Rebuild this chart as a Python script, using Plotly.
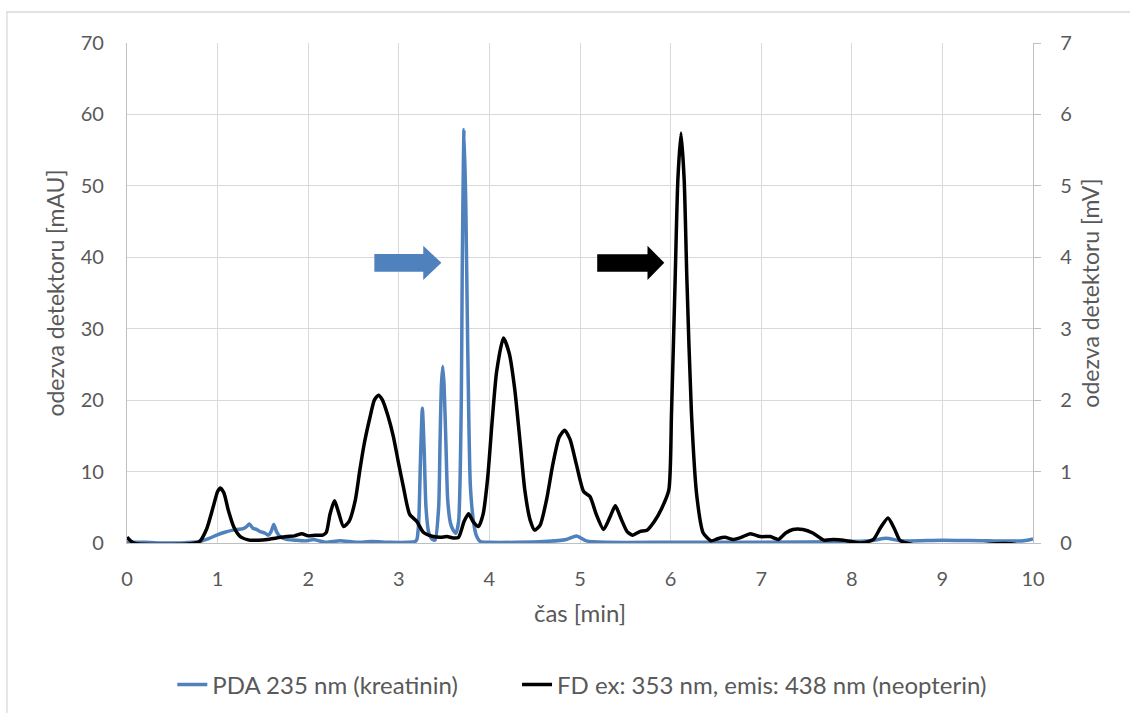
import plotly.graph_objects as go

# PDA 235 nm trace (kreatinin), time [min] vs. response [mAU]
pda_time = [0.00, 0.20, 0.40, 0.60, 0.80, 0.90, 0.99, 1.08, 1.17, 1.28, 1.32, 1.35, 1.39, 1.43,
            1.47, 1.52, 1.56, 1.59, 1.62, 1.65, 1.69, 1.76, 1.85, 1.98, 2.06, 2.12, 2.20, 2.35,
            2.53, 2.70, 2.90, 3.10, 3.18, 3.20, 3.22, 3.24, 3.26, 3.28, 3.30, 3.33, 3.37, 3.40,
            3.44, 3.455, 3.47, 3.485, 3.50, 3.52, 3.54, 3.57, 3.60, 3.63, 3.66, 3.69, 3.70, 3.72,
            3.74, 3.76, 3.79, 3.83, 3.86, 3.90, 4.00, 4.30, 4.60, 4.85, 4.96, 5.07, 5.30, 6.00,
            7.00, 7.90, 8.20, 8.38, 8.55, 9.00, 9.50, 9.90, 10.00]
pda_mau = [0.1, 0.1, 0.0, 0.0, 0.2, 0.6, 1.1, 1.5, 1.8, 2.0, 2.3, 2.66, 2.06, 1.9,
           1.6, 1.4, 1.1, 1.6, 2.6, 1.6, 0.9, 0.5, 0.4, 0.3, 0.5, 0.3, 0.1, 0.3,
           0.1, 0.2, 0.1, 0.1, 0.2, 0.5, 3.0, 12.0, 18.86, 13.0, 5.0, 1.5, 0.5, 0.4,
           5.0, 14.0, 22.0, 24.7, 22.0, 14.0, 6.0, 2.8, 1.8, 1.35, 3.0, 20.0, 38.0, 57.9,
           47.0, 28.0, 8.0, 2.5, 0.9, 0.2, 0.1, 0.1, 0.2, 0.5, 0.98, 0.3, 0.1, 0.1,
           0.1, 0.18, 0.3, 0.65, 0.3, 0.4, 0.3, 0.3, 0.56]

# FD ex 353 nm / em 438 nm trace (neopterin), time [min] vs. response [mV]
fd_time = [0.00, 0.04, 0.10, 0.30, 0.50, 0.70, 0.80, 0.88, 0.95, 1.00, 1.03, 1.07, 1.12, 1.18,
           1.25, 1.35, 1.45, 1.55, 1.65, 1.76, 1.85, 1.93, 2.00, 2.08, 2.16, 2.20, 2.24, 2.29,
           2.33, 2.39, 2.45, 2.52, 2.57, 2.62, 2.68, 2.73, 2.775, 2.82, 2.88, 2.94, 3.00, 3.05,
           3.12, 3.20, 3.27, 3.38, 3.46, 3.53, 3.60, 3.66, 3.72, 3.77, 3.82, 3.88, 3.93, 3.98,
           4.03, 4.08, 4.155, 4.22, 4.28, 4.34, 4.39, 4.45, 4.50, 4.56, 4.63, 4.70, 4.77, 4.83,
           4.89, 4.96, 5.04, 5.11, 5.18, 5.26, 5.33, 5.39, 5.45, 5.52, 5.58, 5.66, 5.74, 5.82,
           5.90, 5.98, 6.01, 6.05, 6.08, 6.115, 6.15, 6.18, 6.23, 6.29, 6.36, 6.45, 6.52, 6.60,
           6.69, 6.78, 6.88, 6.99, 7.10, 7.19, 7.27, 7.35, 7.46, 7.57, 7.69, 7.80, 7.91, 8.00,
           8.09, 8.18, 8.24, 8.32, 8.40, 8.47, 8.53, 8.60, 8.70, 8.80, 9.20, 9.60, 9.75, 9.90,
           10.00]
fd_mv = [0.08, 0.03, -0.01, -0.02, -0.02, -0.01, 0.02, 0.20, 0.50, 0.72, 0.77, 0.70, 0.45, 0.22,
         0.09, 0.04, 0.04, 0.05, 0.07, 0.09, 0.10, 0.13, 0.10, 0.11, 0.11, 0.15, 0.40, 0.59,
         0.45, 0.23, 0.30, 0.60, 1.02, 1.40, 1.75, 2.00, 2.07, 2.00, 1.78, 1.49, 1.10, 0.79,
         0.40, 0.30, 0.15, 0.09, 0.08, 0.09, 0.07, 0.08, 0.30, 0.41, 0.30, 0.23, 0.40, 0.90,
         1.70, 2.40, 2.87, 2.65, 2.15, 1.40, 0.75, 0.32, 0.18, 0.25, 0.60, 1.10, 1.48, 1.58,
         1.45, 1.10, 0.72, 0.65, 0.40, 0.19, 0.36, 0.52, 0.35, 0.16, 0.11, 0.16, 0.18, 0.30,
         0.48, 0.74, 1.82, 3.68, 5.08, 5.74, 5.08, 3.68, 1.82, 0.65, 0.14, 0.03, 0.06, 0.08,
         0.05, 0.08, 0.13, 0.09, 0.09, 0.05, 0.14, 0.19, 0.19, 0.14, 0.04, 0.05, 0.04, 0.02,
         0.00, 0.02, 0.05, 0.22, 0.35, 0.20, 0.04, 0.00, -0.03, -0.05, -0.05, -0.01, -0.01, -0.04,
         -0.04]

x_ticks = [0, 1, 2, 3, 4, 5, 6, 7, 8, 9, 10]
y_left_ticks = [0, 10, 20, 30, 40, 50, 60, 70]
y_right_ticks = [0, 1, 2, 3, 4, 5, 6, 7]

BLUE = "#4f81bd"
TEXT = "#595959"
GRID = "#d9d9d9"
AXIS = "#bfbfbf"
FONT = "Lato"
TICK_SIZE = 20
TITLE_SIZE = 23
LEGEND_SIZE = 24

fig = go.Figure()
fig.add_trace(go.Scatter(
    x=pda_time, y=pda_mau, mode="lines", name="PDA 235 nm (kreatinin)",
    line=dict(color=BLUE, width=3.5, shape="spline", smoothing=0.6),
    yaxis="y", legend="legend",
))
fig.add_trace(go.Scatter(
    x=fd_time, y=fd_mv, mode="lines", name="FD ex: 353 nm, emis: 438 nm (neopterin)",
    line=dict(color="black", width=3.5, shape="spline", smoothing=0.6),
    yaxis="y2", legend="legend2",
))


def arrow_path(x0, x_head, x_tip, body_lo, body_hi, head_lo, head_hi):
    y_mid = (head_lo + head_hi) / 2
    return (f"M{x0},{body_lo} L{x_head},{body_lo} L{x_head},{head_lo} L{x_tip},{y_mid} "
            f"L{x_head},{head_hi} L{x_head},{body_hi} L{x0},{body_hi} Z")


shapes = [
    # block arrow pointing at the kreatinin peak
    dict(type="path", xref="x", yref="y",
         path=arrow_path(2.73, 3.27, 3.47, 37.98, 40.46, 36.82, 41.62),
         fillcolor=BLUE, line=dict(width=0)),
    # block arrow pointing at the neopterin peak
    dict(type="path", xref="x", yref="y",
         path=arrow_path(5.19, 5.745, 5.93, 37.98, 40.42, 36.82, 41.62),
         fillcolor="black", line=dict(width=0)),
    # chart frame
    dict(type="rect", xref="paper", yref="paper",
         x0=-0.1325, x1=1.12, y0=-0.36, y1=1.062,
         line=dict(color=GRID, width=1.3), fillcolor="rgba(0,0,0,0)", layer="below"),
]

fig.update_layout(
    width=1130, height=713,
    margin=dict(l=127, r=97, t=43, b=170, autoexpand=False),
    paper_bgcolor="white", plot_bgcolor="white",
    font=dict(family=FONT, size=TICK_SIZE, color=TEXT),
    shapes=shapes,
    xaxis=dict(
        range=[0, 10], tickvals=x_ticks, ticktext=[str(v) for v in x_ticks],
        tickfont=dict(size=TICK_SIZE), automargin=False,
        showgrid=True, gridcolor=GRID, gridwidth=1.3,
        showline=True, linecolor=AXIS, linewidth=1.3,
        ticks="", ticklabelstandoff=18, zeroline=False,
        title=dict(text="čas [min]", font=dict(size=24, color=TEXT), standoff=16),
    ),
    yaxis=dict(
        range=[0, 70], tickvals=y_left_ticks, tickfont=dict(size=TICK_SIZE), automargin=False,
        showgrid=True, gridcolor=GRID, gridwidth=1.3,
        showline=True, linecolor=AXIS, linewidth=1.3,
        ticks="", ticklabelstandoff=18, zeroline=False,
        title=dict(text="odezva detektoru [mAU]", font=dict(size=TITLE_SIZE, color=TEXT), standoff=9),
    ),
    yaxis2=dict(
        range=[0, 7], tickvals=y_right_ticks, overlaying="y", side="right",
        tickfont=dict(size=TICK_SIZE), automargin=False,
        showgrid=False, showline=True, linecolor=AXIS, linewidth=1.3,
        ticks="outside", ticklen=7, tickcolor=AXIS, tickwidth=1.3,
        ticklabelstandoff=15, zeroline=False,
        title=dict(text="odezva detektoru [mV]", font=dict(size=TITLE_SIZE, color=TEXT), standoff=11),
    ),
    legend=dict(
        orientation="h", x=0.05, y=-0.284, xanchor="left", yanchor="middle",
        bgcolor="rgba(0,0,0,0)", font=dict(size=LEGEND_SIZE, color=TEXT),
    ),
    legend2=dict(
        orientation="h", x=0.4305, y=-0.284, xanchor="left", yanchor="middle",
        bgcolor="rgba(0,0,0,0)", font=dict(size=LEGEND_SIZE, color=TEXT),
    ),
    showlegend=True,
)

fig.write_html("out.html")
